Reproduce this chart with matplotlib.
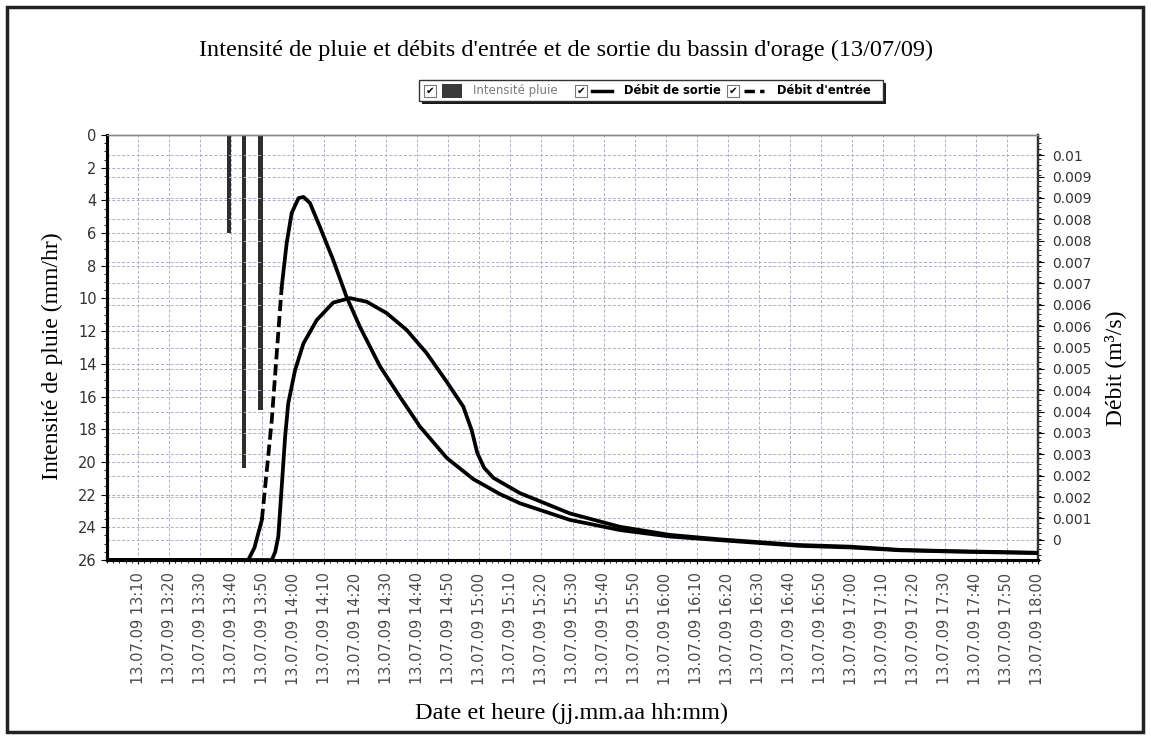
import matplotlib
matplotlib.use("Agg")
import matplotlib.pyplot as plt
from matplotlib.patches import Rectangle
from matplotlib.ticker import MultipleLocator
import numpy as np

# minutes after 13:00 on 13.07.09
rain_t = [39.3, 44.2, 49.5]
rain_i = [6.0, 20.4, 16.8]  # mm/hr

inflow_t = [0, 45.5, 47.5, 49.9, 51.5, 53.1, 54.7, 56.3, 57.9, 59.5, 61.7, 63.3,
            65.4, 68.6, 72.9, 77.2, 81.5, 88.0, 94.4, 100.9, 109.5, 118.0, 126.6,
            133.1, 149.2, 165.3, 181.4, 197.5, 223.0, 239.4, 255.6, 271.7, 300.0]
inflow_q = [0, 0, 0.0003, 0.00099, 0.00222, 0.00346, 0.00511, 0.00675, 0.00783,
            0.00857, 0.00894, 0.00897, 0.00882, 0.00823, 0.00741, 0.00650, 0.00576,
            0.00478, 0.00403, 0.00329, 0.00252, 0.00200, 0.00163, 0.00140, 0.00099,
            0.00074, 0.00058, 0.00049, 0.00035, 0.00031, 0.00024, 0.00021, 0.00017]

outflow_t = [0, 53.1, 54.2, 55.2, 56.3, 57.4, 58.4, 60.6, 63.3, 67.6, 72.9, 78.3,
             83.7, 90.1, 96.6, 103.0, 109.5, 114.8, 117.5, 119.3, 121.5, 124.5,
             133.1, 149.2, 165.3, 181.4, 197.5, 223.0, 239.4, 255.6, 271.7, 300.0]
outflow_q = [0, 0, 0.0002, 0.00058, 0.00181, 0.00305, 0.00387, 0.00469, 0.00535,
             0.00593, 0.00636, 0.00647, 0.00638, 0.00610, 0.00568, 0.00511, 0.00440,
             0.00379, 0.00321, 0.00265, 0.00228, 0.00203, 0.00165, 0.00115, 0.00082,
             0.00062, 0.00051, 0.00037, 0.00033, 0.00025, 0.00022, 0.00018]

x_ticks = list(range(10, 301, 10))
x_labels = ["13.07.09 %02d:%02d" % (13 + m // 60, m % 60) for m in x_ticks]
q_ticks = np.linspace(0.0005, 0.01, 19)
q_labels = ["0", "0.001", "0.002", "0.002", "0.003", "0.003", "0.004", "0.004",
            "0.005", "0.005", "0.006", "0.006", "0.007", "0.007", "0.008", "0.008",
            "0.009", "0.009", "0.01"]

W, H = 1151, 739
fig = plt.figure(figsize=(W / 100, H / 100), dpi=100)
fig.patches.append(Rectangle((7 / W, 7 / H), 1136 / W, 725 / H, transform=fig.transFigure,
                             fill=False, edgecolor="#222222", linewidth=2.5))

ax = fig.add_axes([107 / W, 1 - 560 / H, 931 / W, 425 / H])
ax2 = ax.twinx()

grid_c = "#aab0c6"
ax.bar(rain_t, rain_i, width=1.5, color="#2e2e2e", zorder=3)
ax.set_ylim(26, 0)
ax.set_xlim(0, 300)
ax.yaxis.set_major_locator(MultipleLocator(2))
ax.yaxis.set_minor_locator(MultipleLocator(0.5))
ax.set_xticks(x_ticks)
ax.set_xticklabels(x_labels, rotation=90, fontsize=10.5, color="#4a4a4a")
ax.xaxis.set_minor_locator(MultipleLocator(2))
ax.tick_params(axis="y", labelsize=10.5, labelcolor="#333333", length=4)
ax.tick_params(axis="y", which="minor", length=2)
ax.tick_params(axis="x", length=3, pad=6)
ax.tick_params(axis="x", which="minor", length=2)
ax.grid(True, which="major", color=grid_c, linestyle=(0, (3, 2)), linewidth=0.7)

ax2.set_ylim(0, 0.0105)
ax2.set_yticks(q_ticks)
ax2.set_yticklabels(q_labels)
ax2.yaxis.set_minor_locator(MultipleLocator(0.000528 / 4))
ax2.tick_params(axis="y", labelsize=10, labelcolor="#333333", length=4, pad=6)
ax2.tick_params(axis="y", which="minor", length=2)
ax2.grid(True, which="major", axis="y", color=grid_c, linestyle=(0, (3, 2)), linewidth=0.7)

ax2.plot(outflow_t, outflow_q, color="black", linewidth=2.7, zorder=4)
ax2.plot(inflow_t[:4], inflow_q[:4], color="black", linewidth=2.7, zorder=4)
ax2.plot(inflow_t[3:8], inflow_q[3:8], color="black", linewidth=2.7,
         linestyle=(0, (3, 1.3)), zorder=4)
ax2.plot(inflow_t[7:], inflow_q[7:], color="black", linewidth=2.7, zorder=4)

for a in (ax, ax2):
    a.spines["top"].set_color("#888888")
    a.spines["top"].set_linewidth(1)
    a.spines["left"].set_linewidth(2.2)
    a.spines["bottom"].set_linewidth(2.2)
    a.spines["right"].set_linewidth(1.6)
    a.spines["right"].set_color("#333333")

serif = "Liberation Serif"
fig.text(566 / W, 1 - 50 / H, "Intensité de pluie et débits d'entrée et de sortie du bassin d'orage (13/07/09)",
         ha="center", va="center", fontsize=17.5, family=serif)
ax.set_ylabel("Intensité de pluie (mm/hr)", fontsize=17, family=serif)
ax.yaxis.set_label_coords((63 - 107) / 931, 0.48)
ax2.set_ylabel("Débit (m³/s)", fontsize=17, family=serif, rotation=90)
ax2.yaxis.set_label_coords((1104 - 107) / 931, 0.45)
ax.set_xlabel("Date et heure (jj.mm.aa hh:mm)", fontsize=17.5, family=serif)
ax.xaxis.set_label_coords((572 - 107) / 931, (560 - 703) / 425)

# legend with check boxes
leg = fig.add_axes([419 / W, 1 - 101 / H, 464 / W, 21 / H])
leg.set_xlim(0, 464)
leg.set_ylim(0, 21)
leg.axis("off")
leg.add_patch(Rectangle((3, -3), 464, 21, facecolor="#1a1a1a", clip_on=False, zorder=0))
leg.add_patch(Rectangle((0, 0), 464, 21, facecolor="white", edgecolor="#333333",
                        linewidth=1, clip_on=False, zorder=1))


def checkbox(x):
    leg.add_patch(Rectangle((x, 4.5), 12, 12, facecolor="white", edgecolor="#777777",
                            linewidth=0.8, zorder=2))
    leg.text(x + 6, 10.5, "✔", ha="center", va="center", fontsize=7.5, zorder=3)


checkbox(5)
leg.add_patch(Rectangle((23, 3.5), 20, 14, facecolor="#3a3a3a", zorder=2))
leg.text(54, 10.5, "Intensité pluie", va="center", fontsize=8.5, color="#7a7a7a")
checkbox(156)
leg.plot([173, 193], [10.5, 10.5], color="black", linewidth=2.5)
leg.text(205, 10.5, "Débit de sortie", va="center", fontsize=8.3, fontweight="bold")
checkbox(308)
leg.plot([325, 345], [10.5, 10.5], color="black", linewidth=2.5, linestyle=(0, (3, 1.5)))
leg.text(358, 10.5, "Débit d'entrée", va="center", fontsize=8.3, fontweight="bold")

fig.savefig("out.png", dpi=100)
